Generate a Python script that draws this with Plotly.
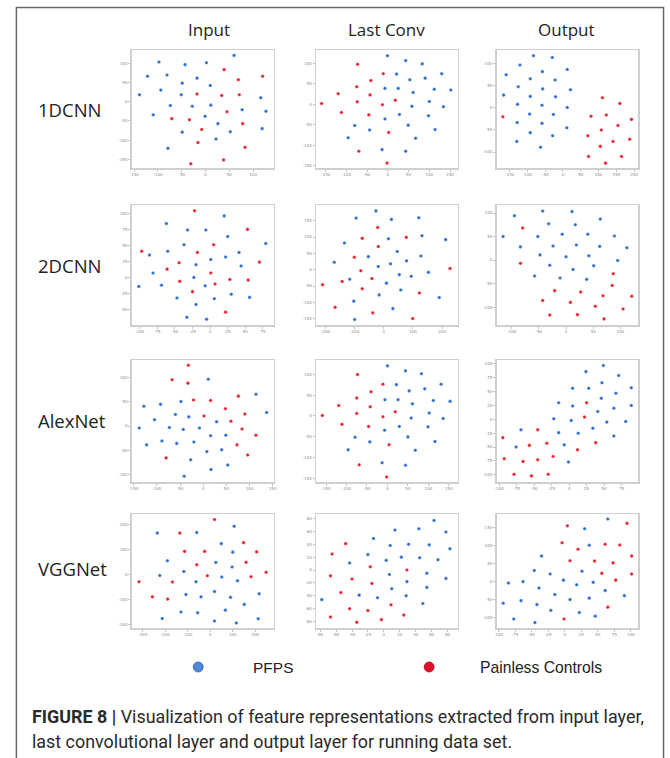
import plotly.graph_objects as go

W, H = 670, 758

col_titles = ["Input", "Last Conv", "Output"]
row_titles = ["1DCNN", "2DCNN", "AlexNet", "VGGNet"]
legend_labels = ["PFPS", "Painless Controls"]
caption_bold = "FIGURE 8 |"
caption_line1 = " Visualization of feature representations extracted from input layer,"
caption_line2 = "last convolutional layer and output layer for running data set."

# ---- t-SNE style embeddings (PFPS = blue, Painless Controls = red) ----
dcnn1_input_pfps = [(60,120),(-98,103),(-43,96),(2,101),(-122,66),(-81,69),(-18,61),(-49,48),(10,42),(-94,30),
                    (-139,18),(-51,18),(116,10),(-74,-10),(-28,-12),(11,-9),(77,-21),(127,-25),(-110,-34),(-1,-38),
                    (26,-57),(-49,-79),(52,-78),(119,-70),(22,-97),(-79,-121)]
dcnn1_input_ctrl = [(39,83),(120,66),(69,57),(-18,20),(34,16),(71,18),(45,-26),(-71,-44),(-34,-47),(-8,-72),
                    (78,-57),(-16,-106),(83,-118),(38,-151),(-31,-161)]

dcnn1_conv_pfps = [(-1,119),(43,107),(83,99),(21,74),(53,60),(90,64),(130,75),(-7,39),(25,39),(61,29),
                   (112,37),(152,35),(58,-5),(100,7),(134,-6),(-7,-36),(28,-25),(98,-28),(-80,-52),(-44,-63),
                   (49,-51),(114,-62),(-96,-82),(67,-83),(-14,-111),(43,-115)]
dcnn1_conv_ctrl = [(-73,98),(-11,75),(-41,58),(-75,43),(-120,26),(-43,23),(-74,6),(-13,-1),(18,10),(-160,2),
                   (-112,-20),(-46,-26),(2,-69),(-70,-115),(-2,-144)]

dcnn1_out_pfps = [(-83,118),(-30,114),(-121,97),(-58,82),(12,87),(-160,75),(-92,66),(-22,63),(-126,48),(-57,43),
                  (21,41),(-167,29),(-92,26),(-21,25),(-128,8),(-59,6),(12,1),(-94,-14),(-27,-15),(-129,-33),
                  (-59,-35),(11,-45),(-92,-56),(-29,-63),(-130,-76),(-63,-89)]
dcnn1_out_ctrl = [(111,23),(160,10),(-169,-20),(79,-19),(122,-16),(193,-26),(108,-50),(155,-40),(70,-63),(141,-76),
                  (188,-71),(105,-87),(72,-110),(165,-110),(120,-125)]

dcnn2_input_pfps = [(20,96),(-62,84),(-32,74),(-6,74),(25,64),(-37,51),(79,53),(-60,41),(41,39),(-86,35),
                    (1,28),(22,32),(-20,20),(44,18),(-81,7),(-23,0),(-101,-14),(-69,-12),(-7,-13),(30,-26),
                    (-47,-32),(6,-33),(56,-31),(-20,-42),(-33,-62),(-5,-65)]
dcnn2_input_ctrl = [(-22,104),(53,75),(5,51),(-97,41),(-18,39),(-44,23),(70,24),(-61,13),(1,7),(-43,-6),
                    (28,-3),(54,-4),(7,-10),(-25,-22),(22,-54)]

dcnn2_conv_pfps = [(-27,180),(-95,158),(26,154),(120,159),(16,95),(131,104),(212,92),(-135,82),(46,56),(-53,40),
                   (127,42),(78,27),(-170,23),(23,18),(-19,10),(153,-8),(53,-15),(94,-20),(-117,-29),(9,-41),
                   (58,-62),(-16,-77),(190,-85),(-103,-96),(31,-119),(-100,-152)]
dcnn2_conv_ctrl = [(-21,129),(-74,96),(77,99),(-19,71),(-101,38),(227,4),(-79,-3),(-41,-27),(-143,-36),(-210,-46),
                   (-74,-58),(122,-71),(-167,-115),(-38,-132),(99,-149)]

dcnn2_out_pfps = [(-43,104),(11,103),(-95,94),(63,87),(-32,77),(17,75),(-7,55),(40,55),(-116,50),(-52,50),
                  (89,51),(-84,28),(-24,30),(19,32),(62,29),(112,26),(-48,11),(0,7),(42,9),(95,-1),
                  (-30,-11),(51,-12),(13,-20),(-58,-34),(-11,-38),(38,-41)]
dcnn2_out_ctrl = [(-80,68),(-84,-7),(87,-29),(85,-54),(-21,-65),(27,-68),(68,-76),(121,-77),(-43,-86),(8,-90),
                  (54,-98),(105,-104),(-30,-117),(21,-116),(70,-125)]

alex_input_pfps = [(11,97),(-48,51),(114,66),(-128,41),(-92,45),(-60,24),(-31,19),(137,28),(-105,13),(29,9),
                   (-138,-4),(-73,-3),(-43,-7),(-8,-4),(16,-20),(49,-19),(-89,-31),(-20,-33),(-122,-39),(-57,-36),
                   (40,-49),(8,-53),(-27,-70),(53,-81),(17,-90),(-41,-104)]
alex_input_ctrl = [(-32,126),(-67,96),(-33,89),(-21,54),(16,53),(76,62),(48,36),(2,21),(90,25),(60,10),
                   (84,-6),(114,-19),(73,-39),(96,-60),(-80,-66)]

alex_conv_pfps = [(0,120),(44,108),(83,101),(22,75),(131,76),(91,65),(53,60),(-6,39),(26,39),(112,37),
                  (61,29),(153,35),(102,7),(58,-5),(136,-6),(29,-25),(99,-26),(-7,-34),(-79,-51),(50,-50),
                  (-43,-62),(116,-61),(68,-82),(-96,-81),(-13,-112),(44,-118)]
alex_conv_ctrl = [(-73,99),(-11,76),(-40,58),(-75,43),(-119,25),(-42,22),(19,10),(-75,6),(-159,1),(-11,-2),
                  (-111,-20),(-46,-25),(4,-69),(-69,-117),(-2,-146)]

alex_out_pfps = [(49,97),(24,86),(71,79),(5,56),(28,56),(47,66),(89,57),(67,47),(46,38),(-15,30),
                 (5,24),(89,25),(64,20),(41,14),(-22,1),(3,-2),(81,-4),(54,-5),(34,-16),(-69,-19),
                 (-15,-24),(13,-25),(64,-30),(-7,-46),(-76,-50),(-1,-77)]
alex_out_ctrl = [(25,30),(22,4),(-45,-19),(-95,-33),(38,-42),(-32,-43),(-57,-47),(-23,-67),(12,-55),(-93,-71),
                 (-66,-76),(-45,-73),(-79,-99),(-54,-102),(-30,-99)]

vgg_input_pfps = [(106,193),(-235,166),(-60,168),(49,124),(100,90),(-190,56),(25,49),(-117,13),(97,31),(-224,-3),
                  (51,-9),(-63,-28),(121,-24),(-108,-79),(-41,-88),(19,-67),(90,-90),(217,-76),(151,-118),(67,-141),
                  (-130,-148),(-56,-151),(-213,-174),(19,-184),(116,-192),(213,-175)]
vgg_input_ctrl = [(19,220),(-135,166),(148,128),(-114,93),(-25,93),(206,91),(-60,40),(159,50),(-13,-4),(181,-8),
                  (248,10),(-316,-28),(-168,-29),(-257,-88),(-189,-97)]

vgg_conv_pfps = [(63,77),(14,62),(44,64),(78,59),(-13,49),(8,38),(31,40),(57,39),(83,33),(-20,24),
                 (-43,11),(3,15),(22,20),(45,19),(68,16),(7,-7),(54,-5),(78,-13),(29,-18),(10,-29),
                 (-31,-39),(-8,-43),(28,-40),(54,-27),(-78,-46),(49,-52)]
vgg_conv_ctrl = [(-48,41),(-65,25),(-17,5),(29,0),(-67,-9),(-40,-14),(-15,-21),(-54,-35),(9,-54),(-43,-60),
                 (-20,-63),(-67,-73),(-3,-77),(25,-70),(-34,-81)]

vgg_out_pfps = [(65,174),(30,147),(37,101),(-35,71),(26,29),(-46,31),(-22,21),(-2,4),(-85,-4),(-63,0),
                (18,-9),(43,-2),(-39,-18),(-15,-36),(61,-25),(90,-39),(-93,-60),(-66,-53),(-42,-64),(8,-50),
                (37,-46),(-21,-80),(22,-86),(46,-96),(-77,-104),(-45,-114)]
vgg_out_ctrl = [(94,162),(4,155),(-4,108),(20,90),(61,104),(83,102),(101,71),(8,58),(45,57),(73,52),
                (56,23),(101,21),(77,4),(65,-71),(-1,-104)]

# tick values of each small panel (x ticks, y ticks)
ticks = [
    (list(range(-150, 101, 50)), list(range(-150, 101, 50))),
    (list(range(-150, 151, 50)), list(range(-150, 101, 50))),
    (list(range(-150, 201, 50)), list(range(-100, 101, 50))),
    (list(range(-100, 76, 25)), list(range(-50, 101, 25))),
    (list(range(-200, 201, 100)), list(range(-150, 151, 50))),
    (list(range(-100, 101, 50)), list(range(-100, 101, 50))),
    (list(range(-150, 151, 50)), list(range(-100, 101, 50))),
    (list(range(-150, 151, 50)), list(range(-150, 101, 50))),
    (list(range(-100, 76, 25)), list(range(-100, 101, 25))),
    (list(range(-300, 201, 100)), list(range(-200, 201, 100))),
    (list(range(-80, 81, 20)), list(range(-80, 81, 20))),
    (list(range(-100, 101, 25)), list(range(-100, 151, 50))),
]

panels = [
    (dcnn1_input_pfps, dcnn1_input_ctrl), (dcnn1_conv_pfps, dcnn1_conv_ctrl), (dcnn1_out_pfps, dcnn1_out_ctrl),
    (dcnn2_input_pfps, dcnn2_input_ctrl), (dcnn2_conv_pfps, dcnn2_conv_ctrl), (dcnn2_out_pfps, dcnn2_out_ctrl),
    (alex_input_pfps, alex_input_ctrl), (alex_conv_pfps, alex_conv_ctrl), (alex_out_pfps, alex_out_ctrl),
    (vgg_input_pfps, vgg_input_ctrl), (vgg_conv_pfps, vgg_conv_ctrl), (vgg_out_pfps, vgg_out_ctrl),
]

# axis extents of each panel
ranges = [
    ([-155, 143], [-172, 134]), ([-173, 169], [-156, 133]), ([-187, 212], [-136, 131]),
    ([-111, 90], [-74, 113]), ([-232, 254], [-169, 198]), ([-128, 133], [-138, 117]),
    ([-154, 152], [-116, 137]), ([-174, 172], [-158, 134]), ([-104, 99], [-113, 107]),
    ([-348, 281], [-212, 242]), ([-85, 93], [-90, 87]), ([-103, 111], [-129, 188]),
]

# pixel layout
col_px = [(130, 273), (316, 459), (498, 641)]
row_px = [(50, 168), (205, 325), (360, 482), (514, 628)]

BLUE = "#2f6fcb"
RED = "#e8232d"

fig = go.Figure()
layout = {}
for i, (pf, ct) in enumerate(panels):
    r, c = divmod(i, 3)
    k = "" if i == 0 else str(i + 1)
    xa, ya = "x" + k, "y" + k
    x0, x1 = col_px[c]
    y0, y1 = row_px[r]
    for pts, col in ((pf, BLUE), (ct, RED)):
        fig.add_trace(go.Scatter(
            x=[p[0] for p in pts], y=[p[1] for p in pts], mode="markers",
            marker=dict(size=3.6, color=col, line=dict(width=0.5, color="rgba(255,255,255,0.8)")),
            xaxis=xa, yaxis=ya, showlegend=False, hoverinfo="skip"))
    tx, ty = ticks[i]
    ax_common = dict(showline=True, mirror=True, linecolor="#cfcfcf", linewidth=1.5,
                     showgrid=False, zeroline=False, ticks="outside", ticklen=2,
                     tickcolor="#999", tickwidth=0.6,
                     tickfont=dict(size=4, color="#888", family="DejaVu Sans"))
    layout["xaxis" + k] = dict(domain=[x0 / W, x1 / W], range=ranges[i][0], anchor=ya,
                               tickvals=tx, ticktext=[str(v) for v in tx], **ax_common)
    layout["yaxis" + k] = dict(domain=[1 - y1 / H, 1 - y0 / H], range=ranges[i][1], anchor=xa,
                               tickvals=ty, ticktext=[str(v) for v in ty], **ax_common)

fig.update_layout(**layout)

ann = []
head_x = [208, 387, 569]
for t, xc in zip(col_titles, head_x):
    ann.append(dict(text=t, x=xc / W, y=1 - 29 / H, xref="paper", yref="paper",
                    xanchor="center", yanchor="middle", showarrow=False,
                    font=dict(size=17, color="#222", family="Open Sans")))
row_y = [110, 265, 420, 568]
for t, yc in zip(row_titles, row_y):
    ann.append(dict(text=t, x=33 / W, y=1 - yc / H, xref="paper", yref="paper",
                    xanchor="left", yanchor="middle", showarrow=False,
                    font=dict(size=18.5, color="#222", family="Open Sans")))
# legend texts
ann.append(dict(text=legend_labels[0], x=250 / W, y=1 - 667 / H, xref="paper", yref="paper",
                xanchor="left", yanchor="middle", showarrow=False,
                font=dict(size=15.5, color="#222", family="Liberation Sans")))
ann.append(dict(text=legend_labels[1], x=479 / W, y=1 - 667 / H, xref="paper", yref="paper",
                xanchor="left", yanchor="middle", showarrow=False,
                font=dict(size=15.7, color="#222", family="Liberation Sans")))
# caption
ann.append(dict(text="<b>" + caption_bold + "</b>" + caption_line1, x=27 / W, y=1 - 716 / H,
                xref="paper", yref="paper", xanchor="left", yanchor="middle", showarrow=False,
                font=dict(size=17.9, color="#2a2a2a", family="Roboto")))
ann.append(dict(text=caption_line2, x=27 / W, y=1 - 741 / H,
                xref="paper", yref="paper", xanchor="left", yanchor="middle", showarrow=False,
                font=dict(size=17.9, color="#2a2a2a", family="Roboto")))

shapes = [
    dict(type="rect", xref="paper", yref="paper", x0=13.5 / W, x1=666.5 / W, y0=-0.05, y1=1 - 7.5 / H,
         line=dict(color="#666", width=1.5), fillcolor="rgba(0,0,0,0)", layer="below"),
    dict(type="circle", xref="paper", yref="paper", x0=192 / W, x1=202 / W, y0=1 - 672 / H, y1=1 - 662 / H,
         fillcolor="#4f86d6", line=dict(color="#2d5fa8", width=0.8)),
    dict(type="circle", xref="paper", yref="paper", x0=425 / W, x1=435 / W, y0=1 - 672 / H, y1=1 - 662 / H,
         fillcolor="#e0102a", line=dict(color="#b00a1f", width=0.8)),
]

fig.update_layout(width=W, height=H, margin=dict(l=0, r=0, t=0, b=0),
                  paper_bgcolor="white", plot_bgcolor="white",
                  annotations=ann, shapes=shapes, showlegend=False)

fig.write_html("out.html", config={"displayModeBar": False, "staticPlot": True},
               post_script="document.body.style.margin='0px';document.body.style.overflow='hidden';")
